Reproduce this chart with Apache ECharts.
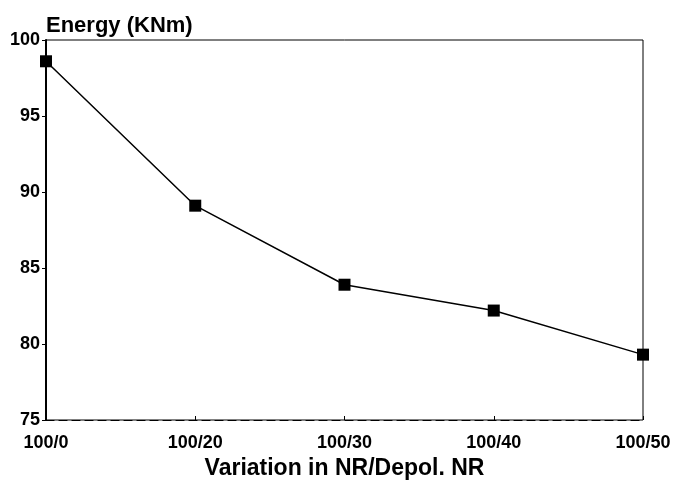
<!DOCTYPE html>
<html><head><meta charset="utf-8">
<script src="https://cdn.jsdelivr.net/npm/echarts@6/dist/echarts.min.js"></script>
<style>html,body{margin:0;padding:0;background:#fff}#c{width:677px;height:481px}</style>
</head><body><div id="c"></div>
<script>
const categories = ['100/0', '100/20', '100/30', '100/40', '100/50'];
const energy = [98.6, 89.1, 83.9, 82.2, 79.3];
const yTicks = [75, 80, 85, 90, 95, 100];

const chart = echarts.init(document.getElementById('c'));
const font = 'Liberation Sans, Arial, sans-serif';
chart.setOption({
  animation: false,
  backgroundColor: '#fff',
  grid: { left: 46, right: 34, top: 40, bottom: 61, show: true, borderColor: '#000', borderWidth: 1,
          containLabel: false, outerBoundsMode: 'none' },
  title: {
    text: 'Energy (KNm)', left: 41, top: 10,
    textStyle: { fontFamily: font, fontWeight: 'bold', fontSize: 22, color: '#000' }
  },
  xAxis: {
    type: 'category', data: categories, boundaryGap: false,
    name: 'Variation in NR/Depol. NR', nameLocation: 'middle', nameGap: 36,
    nameTextStyle: { fontFamily: font, fontWeight: 'bold', fontSize: 23, color: '#000' },
    axisLine: { lineStyle: { color: '#000', width: 1.2, type: [8, 5] } },
    axisTick: { show: true, inside: true, length: 4, lineStyle: { color: '#000' } },
    axisLabel: { fontFamily: font, fontWeight: 'bold', fontSize: 18, color: '#000', margin: 14 },
    splitLine: { show: false }
  },
  yAxis: {
    type: 'value', min: 75, max: 100, interval: 5,
    axisLine: { show: true, lineStyle: { color: '#000', width: 2 } },
    axisTick: { show: true, length: 4, lineStyle: { color: '#000' } },
    axisLabel: {
      fontFamily: font, fontWeight: 'bold', fontSize: 18, color: '#000', margin: 6,
      formatter: v => yTicks.includes(v) ? String(v) : ''
    },
    splitLine: { show: false }
  },
  series: [{
    type: 'line', data: energy,
    symbol: 'rect', symbolSize: 12,
    itemStyle: { color: '#000' },
    lineStyle: { color: '#000', width: 1.5 }
  }]
});
</script></body></html>
